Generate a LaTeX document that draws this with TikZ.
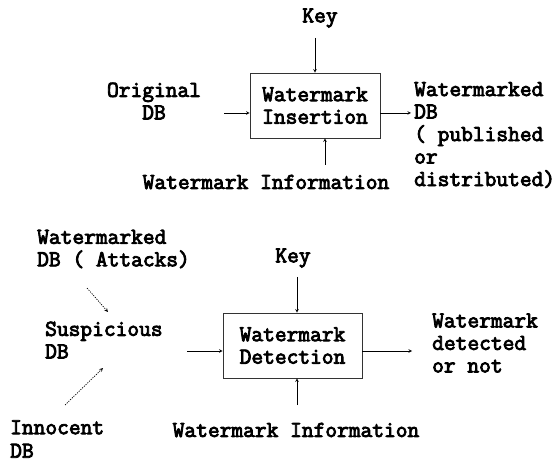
\documentclass[tikz,border=0pt]{standalone}
\usepackage{fontspec}
\newfontfamily\courfont[FakeBold=3.6]{Latin Modern Mono}
\tikzset
 {> = stealth,                               % small filled arrow tips
  lbl/.style =                               % plain text, no frame
   {font = \courfont\fontsize{22.8}{22.5}\selectfont,
    inner sep = 0pt
   },
  stage/.style =                             % the two processing boxes
   {lbl, draw = black!80, line width = 0.7pt, align = left,
    minimum height = 65pt
   },
  link/.style = {line width = 0.6pt},        % ordinary connectors
  maybe/.style =                             % dotted inputs of the detector
   {link, line width = 0.7pt, dash pattern = on 1.2pt off 1.2pt
   }
 }

\begin{document}
\begin{tikzpicture}[x=1pt, y=-1pt]
    \useasboundingbox (0,0) rectangle (557,462);
    % insertion
    \node[lbl] (keyA) at (320,18) {Key};
    \node[stage, minimum width=130pt] (insert) at (315,105.5) {Watermark\\Insertion};
    \node[lbl, align=center] (origDB) at (154,101) {Original\\DB};
    \node[lbl, align=left, anchor=west] (markedDB) at (414,135)
        {Watermarked\\DB\\( published\\or\\distributed)};
    \node[lbl] (infoA) at (266,182) {Watermark Information};
    \coordinate (keyA end) at (315,38);
    \coordinate (orig end) at (224,113);
    \coordinate (infoA end) at (325,165);
    \coordinate (marked end) at (411,113);
    \draw[link, ->] (keyA end) -- (keyA end |- insert.north);
    \draw[link, ->] (orig end) -- (orig end -| insert.west);
    \draw[link, ->] (insert.east |- orig end) -- (marked end);
    \draw[link, ->] (infoA end) -- (infoA end |- insert.south);
    % detection
    \node[lbl, align=left, anchor=west] (attackDB) at (37,249) {Watermarked\\DB ( Attacks)};
    \node[lbl] (keyB) at (293,258) {Key};
    \node[stage, minimum width=139pt] (detect) at (292.5,345.5) {Watermark\\Detection};
    \node[lbl, align=left, anchor=west] (suspDB) at (45,340) {Suspicious\\DB};
    \node[lbl, align=left, anchor=west] (result) at (432,343) {Watermark\\detected\\or not};
    \node[lbl, align=left, anchor=west] (innoDB) at (10,439) {Innocent\\[1pt]DB};
    \node[lbl] (infoB) at (296,430) {Watermark Information};
    \coordinate (keyB end) at (297,277);
    \coordinate (susp end) at (187,351);
    \coordinate (result end) at (412,351);
    \coordinate (infoB end) at (297,405);
    \coordinate (attack from) at (87,288);
    \coordinate (attack to) at (108,312);
    \coordinate (inno from) at (65,405);
    \coordinate (inno to) at (103,368);
    \draw[link, ->] (keyB end) -- (keyB end |- detect.north);
    \draw[link, ->] (susp end) -- (susp end -| detect.west);
    \draw[link, ->] (detect.east |- susp end) -- (result end);
    \draw[link, ->] (infoB end) -- (infoB end |- detect.south);
    \draw[maybe, ->] (attack from) -- (attack to);
    \draw[maybe, ->] (inno from) -- (inno to);
\end{tikzpicture}
\end{document}
